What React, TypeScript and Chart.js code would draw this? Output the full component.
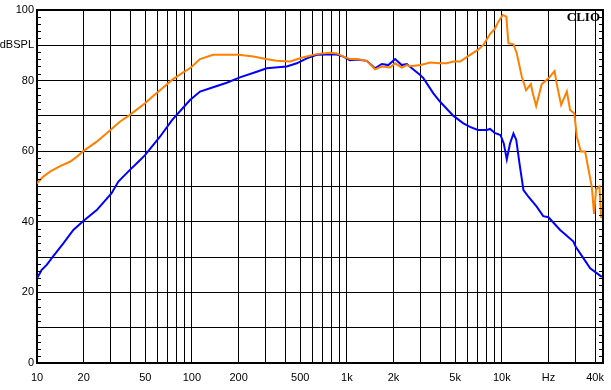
import React, { useEffect, useRef } from "react";
import { Chart, registerables } from "chart.js";

Chart.register(...registerables);

// ---- Data ----
const orangeFreq = [
  10, 10.98, 12.13, 14.1, 16.3, 18.04, 20, 24.3, 28.9, 34.4, 39.8, 49.8, 55.5, 62.2, 74.4, 86.3, 97.2,
  112.8, 137, 163, 185, 200, 249, 300, 352, 430, 524, 639, 780, 861, 950, 1047, 1159, 1343,
  1521, 1679, 1900, 2048, 2261, 2436, 2558, 3000, 3443, 4000, 4416, 4877, 5383, 6000, 7000,
  7603, 8396, 9000, 9508, 10140, 10700, 11030, 11890, 12500, 13460, 14350, 15400, 15850,
  16660, 18100, 20100, 21900, 22600, 24150, 26300, 27600, 29400, 30500, 32400, 34500, 38100,
  39400, 40600, 42700, 43800,
];
const orangeDb = [
  50.9, 52.8, 54.2, 55.8, 57.0, 58.4, 60.1, 62.7, 65.5, 68.4, 70.3, 73.6, 75.4, 77.3, 80.2, 82.1, 83.5,
  86.1, 87.3, 87.3, 87.3, 87.3, 86.8, 86.1, 85.6, 85.4, 86.6, 87.5, 87.9, 87.7, 86.8, 86.1, 86.1, 85.6,
  83.2, 84.0, 83.7, 84.9, 83.7, 84.4, 84.1, 84.4, 85.1, 84.9, 84.9, 85.4, 85.4, 86.8, 88.7,
  90.1, 93.2, 94.6, 96.7, 98.6, 98.1, 90.6, 90.3, 87.7, 81.1, 77.3, 79.0, 76.4,
  72.8, 79.0, 80.7, 82.7, 79.2, 73.1, 76.9, 71.7, 70.7, 64.1, 59.9, 59.9, 49.9,
  42.2, 49.2, 50.0, 41.0,
];

const blueFreq = [
  10, 10.7, 11.55, 12.74, 14.79, 17.16, 20, 24.3, 30.3, 33.5, 39.8, 45.1, 49.8, 62.2, 74.4, 97.2,
  112.8, 137, 167.8, 204, 262, 304, 409, 475, 551, 639, 741, 861, 950, 1047, 1159, 1343, 1521,
  1679, 1853, 2048, 2261, 2436, 2558, 2970, 3118, 3617, 4000, 4877, 5650, 6237, 7000, 8000,
  8400, 9000, 9800, 10300, 10770, 11300, 11890, 12400, 13000, 13800, 14850, 16800, 18500,
  20000, 23800, 29000, 30000, 33600, 37200, 44200,
];
const blueDb = [
  24.0, 26.3, 27.8, 30.3, 33.9, 37.7, 40.3, 43.3, 48.1, 51.4, 54.7, 57.0, 58.9, 64.1, 68.8, 74.5,
  76.9, 78.1, 79.4, 80.9, 82.5, 83.5, 84.0, 84.9, 86.3, 87.3, 87.4, 87.4, 86.8, 85.8, 86.0, 85.6, 83.5,
  84.7, 84.4, 86.1, 84.4, 84.7, 83.9, 81.6, 80.7, 76.4, 74.0, 70.0, 67.9, 66.9, 66.0, 66.0,
  66.3, 65.2, 64.6, 62.2, 57.7, 62.2, 65.0, 63.2, 56.6, 49.0, 47.1, 44.3, 41.6,
  41.3, 37.7, 34.4, 32.9, 29.7, 26.8, 24.4,
];

const xGridValues = [
  10, 20, 30, 40, 50, 60, 70, 80, 90, 100, 200, 300, 400, 500, 600, 700, 800, 900, 1000,
  2000, 3000, 4000, 5000, 6000, 7000, 8000, 9000, 10000, 20000, 30000, 40000,
];
const xLabelValues = [10, 20, 50, 100, 200, 500, 1000, 2000, 5000, 10000, 20000, 40000];
const xLabelTexts = ["10", "20", "50", "100", "200", "500", "1k", "2k", "5k", "10k", "Hz", "40k"];

const yGridValues = [0, 10, 20, 30, 40, 50, 60, 70, 80, 90, 100];
const yLabelValues = [0, 20, 40, 60, 80, 90, 100];
const yLabelTexts = ["0", "20", "40", "60", "80", "dBSPL", "100"];
const yMinorValues = [
  2, 4, 6, 8, 12, 14, 16, 18, 22, 24, 26, 28, 32, 34, 36, 38, 42, 44, 46, 48,
  52, 54, 56, 58, 62, 64, 66, 68, 72, 74, 76, 78, 82, 84, 86, 88, 92, 94, 96, 98,
];

const X_MIN = 10;
const X_MAX = 45000;
const titleText = "CLIO";

const framePlugin = {
  id: "clioFrame",
  afterDraw(chart: any) {
    const { ctx, chartArea } = chart;
    const ys = chart.scales.y;
    const { left, right, top, bottom } = chartArea;
    ctx.save();
    ctx.strokeStyle = "#000";
    ctx.lineWidth = 2;
    ctx.beginPath();
    ctx.moveTo(left - 1, top);
    ctx.lineTo(right, top);
    ctx.lineTo(right, bottom + 1);
    ctx.stroke();
    // minor ticks
    ctx.lineWidth = 1;
    ctx.beginPath();
    for (const v of yMinorValues) {
      const py = Math.round(ys.getPixelForValue(v)) + 0.5;
      ctx.moveTo(left, py);
      ctx.lineTo(left + 4, py);
      ctx.moveTo(right - 4, py);
      ctx.lineTo(right, py);
    }
    ctx.stroke();
    // title
    ctx.fillStyle = "#000";
    ctx.font = "bold 13px 'Liberation Serif', serif";
    ctx.textAlign = "right";
    ctx.textBaseline = "alphabetic";
    ctx.fillText(titleText, right - 3, top + 11);
    ctx.restore();
  },
};

export default function App() {
  const ref = useRef<HTMLCanvasElement | null>(null);

  useEffect(() => {
    if (!ref.current) return;
    const chart = new Chart(ref.current, {
      type: "line",
      data: {
        datasets: [
          {
            data: orangeFreq.map((f, i) => ({ x: f, y: orangeDb[i] })),
            borderColor: "#FF8000",
            borderWidth: 2,
            pointRadius: 0,
            tension: 0,
            fill: false,
          },
          {
            data: blueFreq.map((f, i) => ({ x: f, y: blueDb[i] })),
            borderColor: "#0000FF",
            borderWidth: 2,
            pointRadius: 0,
            tension: 0,
            fill: false,
          },
        ],
      },
      plugins: [framePlugin],
      options: {
        animation: false,
        responsive: false,
        devicePixelRatio: 1,
        layout: { padding: { top: 10, right: 8, left: 0, bottom: 0 } },
        plugins: {
          legend: { display: false },
          tooltip: { enabled: false },
          title: { display: false },
        },
        scales: {
          x: {
            type: "logarithmic",
            min: X_MIN,
            max: X_MAX,
            position: "bottom",
            afterBuildTicks: (scale: any) => {
              scale.ticks = xGridValues.map((v) => ({ value: v }));
            },
            afterFit: (scale: any) => {
              scale.height = 27;
              scale.paddingLeft = 0;
              scale.paddingRight = 0;
            },
            ticks: {
              autoSkip: false,
              maxRotation: 0,
              minRotation: 0,
              padding: 8,
              color: "#000",
              font: { family: "'Liberation Sans', Arial, sans-serif", size: 11 },
              callback: (value: any) => {
                const idx = xLabelValues.indexOf(Number(value));
                return idx >= 0 ? xLabelTexts[idx] : "";
              },
            },
            grid: { color: "#000", lineWidth: 1, drawTicks: false },
            border: { display: true, color: "#000", width: 2 },
          },
          y: {
            type: "linear",
            min: 0,
            max: 100,
            position: "left",
            afterBuildTicks: (scale: any) => {
              scale.ticks = yGridValues.map((v) => ({ value: v }));
            },
            afterFit: (scale: any) => {
              scale.width = 37;
              scale.paddingTop = 0;
              scale.paddingBottom = 0;
            },
            ticks: {
              autoSkip: false,
              padding: 3,
              color: "#000",
              font: { family: "'Liberation Sans', Arial, sans-serif", size: 11 },
              callback: (value: any) => {
                const idx = yLabelValues.indexOf(Number(value));
                return idx >= 0 ? yLabelTexts[idx] : "";
              },
            },
            grid: { color: "#000", lineWidth: 1, drawTicks: false },
            border: { display: true, color: "#000", width: 2 },
          },
        },
      },
    });
    return () => chart.destroy();
  }, []);

  return (
    <div style={{ position: "absolute", left: 0, top: 0, width: 611, height: 390, background: "#fff" }}>
      <canvas ref={ref} width={611} height={390} style={{ display: "block" }} />
    </div>
  );
}
